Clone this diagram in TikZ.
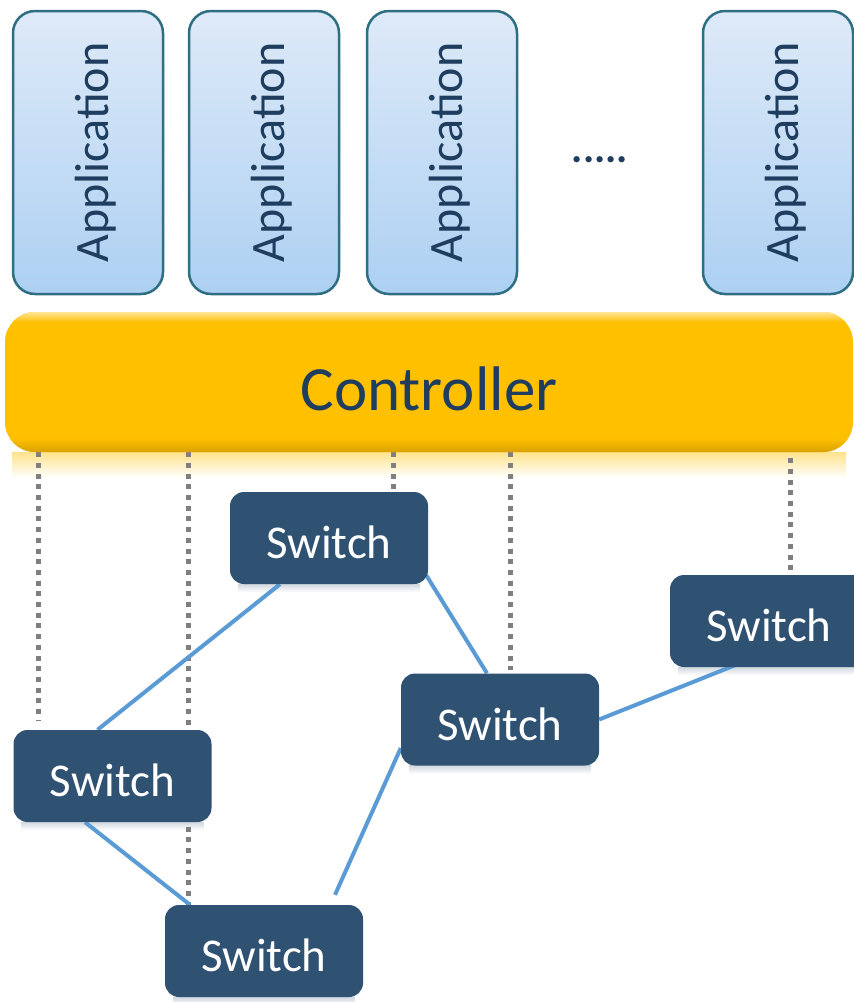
\documentclass[tikz,border=0pt]{standalone}
\usepackage{fontspec}
\setmainfont{Carlito}
\usetikzlibrary{calc,backgrounds}
\definecolor{appborder}{HTML}{2F6F84}
\definecolor{apptop}{HTML}{DEEAF8}
\definecolor{appbot}{HTML}{ADD0F2}
\definecolor{apptext}{HTML}{1F3D5E}
\definecolor{ctrlc}{HTML}{FFC000}
\definecolor{ctrldark}{HTML}{D9A200}
\definecolor{swc}{HTML}{2F5172}
\definecolor{linkc}{HTML}{5B9BD5}
\definecolor{dotc}{HTML}{7F7F7F}
\begin{document}
\begin{tikzpicture}[x=1pt,y=-1pt,
  appbox/.style={draw=appborder, line width=2.5pt, rounded corners=22pt,
    minimum width=150pt, minimum height=283pt, top color=apptop, bottom color=appbot,
    inner sep=0pt, text=apptext, font=\fontsize{48}{58}\selectfont},
  ctrlbox/.style={fill=ctrlc, rounded corners=30pt, minimum width=848pt, minimum height=140pt,
    inner sep=0pt},
  swbox/.style={fill=swc, rounded corners=14pt, minimum width=198pt, minimum height=92pt,
    inner sep=0pt, text=white, font=\fontsize{47}{56}\selectfont, text height=41pt, text depth=0pt},
  linkline/.style={draw=linkc, line width=4pt},
  dotline/.style={draw=dotc, line width=5pt, dash pattern=on 5pt off 5.7pt},
  swshadow/.style={top color=swc!22, bottom color=white}
]
\useasboundingbox (0,0) rectangle (854,1002);
\clip (0,0) rectangle (854,1002);

% Applications
\node[appbox] (a1) at (88,152.5) {\hspace*{16pt}\rotatebox{90}{Application}};
\node[appbox] (a2) at (264,152.5) {\hspace*{16pt}\rotatebox{90}{Application}};
\node[appbox] (a3) at (442,152.5) {\hspace*{16pt}\rotatebox{90}{Application}};
\node[appbox] (a4) at (778,152.5) {\hspace*{16pt}\rotatebox{90}{Application}};
\node[anchor=base, text=apptext, font=\bfseries\fontsize{42}{50}\selectfont] (dots) at (600,162) {.....};

% Controller
\node[ctrlbox] (ctrl) at (429,382) {};
\begin{scope}
  \clip[rounded corners=30pt] (5,312) rectangle (853,452);
  \shade[top color=ctrlc, bottom color=ctrldark] (5,438) rectangle (853,452);
  \shade[top color=ctrlc!40!white, bottom color=ctrlc] (5,312) rectangle (853,322);
\end{scope}
\node[text=apptext, font=\fontsize{63}{74}\selectfont, text height=56pt, text depth=0pt] (ctrltext) at (ctrl.center) {Controller};

% Switches
\node[swbox] (s1) at (329,538) {Switch};
\node[swbox] (s2) at (769,621) {Switch};
\node[swbox] (s3) at (500,719.5) {Switch};
\node[swbox] (s4) at (112.5,776) {Switch};
\node[swbox] (s5) at (264,951) {Switch};

\coordinate (x1) at (38,0);
\coordinate (x2) at (188,0);
\coordinate (x3) at (393,0);
\coordinate (x4) at (510,0);
\coordinate (x5) at (790,0);

\begin{pgfonlayer}{background}
  % controller reflection
  \shade[top color=ctrlc!45, bottom color=white] (12,452) rectangle (846,478);
  % switch reflections
  \foreach \s in {s1,s2,s3,s4,s5}{
    \shade[swshadow] ($(\s.south west)+(8,0)$) rectangle ($(\s.south east)+(-8,8)$);
  }
  % dotted control lines
  \draw[dotline] (ctrl.south -| x1) -- ($(s4.north -| x1)+(0,-10)$);
  \draw[dotline] (ctrl.south -| x2) -- (s5.north -| x2);
  \draw[dotline] (ctrl.south -| x3) -- (s1.north -| x3);
  \draw[dotline] (ctrl.south -| x4) -- ($(s3.north -| x4)+(0,-3)$);
  \draw[dotline] ($(ctrl.south -| x5)+(0,6)$) -- ($(s2.north -| x5)+(0,-3)$);
  % links
  \draw[linkline] ($(s1.south)+(-49,0)$) -- ($(s4.north)+(-15,0)$);
  \draw[linkline] ($(s1.south east)+(-2,-9)$) -- ($(s3.north)+(-13,0)$);
  \draw[linkline] (s3.east) -- ($(s2.south)+(-34,-2)$);
  \draw[linkline] ($(s4.south)+(-27.5,0)$) -- ($(s5.north)+(-74,0)$);
  \draw[linkline] ($(s5.north)+(71,-10)$) -- ($(s3.west)+(0,28.5)$);
\end{pgfonlayer}
\end{tikzpicture}
\end{document}
